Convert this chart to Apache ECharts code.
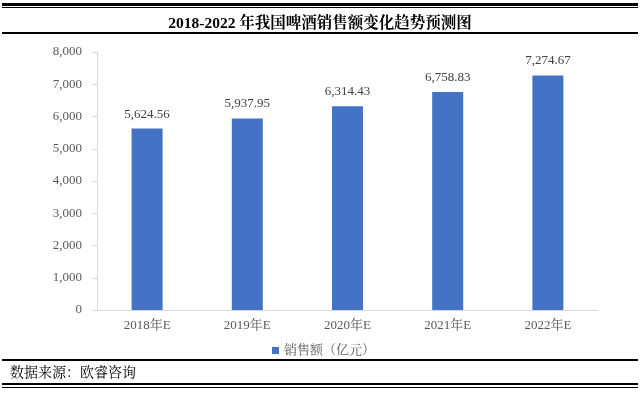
<!DOCTYPE html>
<html><head><meta charset="utf-8">
<script src="https://cdn.jsdelivr.net/npm/echarts@6/dist/echarts.min.js"></script>
<style>html,body{margin:0;padding:0;background:#fff}#c{width:640px;height:394px}</style>
</head><body><div id="c"></div>
<script>
const categories = ['2018年E','2019年E','2020年E','2021年E','2022年E'];
const sales = [5624.56, 5937.95, 6314.43, 6758.83, 7274.67];
const yTicks = [0,1000,2000,3000,4000,5000,6000,7000,8000];
const titleText = '2018-2022 年我国啤酒销售额变化趋势预测图';
const seriesName = '销售额（亿元）';
const sourceText = '数据来源：欧睿咨询';

const serif = '"Liberation Serif","Noto Serif CJK SC","Noto Sans CJK SC",serif';
const chart = echarts.init(document.getElementById('c'));
const fmt = v => Number(v).toLocaleString('en-US');
chart.setOption({
  animation:false,
  title:{text:titleText,left:'center',top:11,textStyle:{fontFamily:serif,fontSize:15.5,fontWeight:'bold',color:'#000'}},
  legend:{data:[seriesName],left:267,top:339,itemWidth:7,itemHeight:7,itemGap:3,icon:'rect',
    textStyle:{fontFamily:serif,fontSize:13,color:'#595959'}},
  grid:{left:97,right:42,top:52,bottom:84},
  xAxis:{type:'category',data:categories,
    axisLine:{lineStyle:{color:'#d9d9d9'}},axisTick:{show:false},
    axisLabel:{fontFamily:serif,fontSize:13,color:'#595959',margin:9}},
  yAxis:{type:'value',min:yTicks[0],max:yTicks[yTicks.length-1],interval:1000,
    axisLine:{show:true,lineStyle:{color:'#d9d9d9'}},
    axisTick:{show:true,length:5,lineStyle:{color:'#d9d9d9'}},
    splitLine:{show:false},
    axisLabel:{fontFamily:serif,fontSize:13,color:'#595959',margin:15,formatter:v=>fmt(v)}},
  series:[{name:seriesName,type:'bar',data:sales,barWidth:31,itemStyle:{color:'#4472C4'},
    label:{show:true,position:'top',distance:8,fontFamily:serif,fontSize:13,color:'#404040',
      formatter:p=>p.value.toLocaleString('en-US',{minimumFractionDigits:2,maximumFractionDigits:2})}}],
  graphic:[
    {type:'rect',shape:{x:2,y:3,width:636,height:3},style:{fill:'#000'}},
    {type:'rect',shape:{x:2,y:7,width:636,height:1},style:{fill:'#000'}},
    {type:'rect',shape:{x:2,y:32,width:636,height:2},style:{fill:'#000'}},
    {type:'rect',shape:{x:2,y:359,width:636,height:2},style:{fill:'#000'}},
    {type:'rect',shape:{x:2,y:383,width:636,height:2},style:{fill:'#000'}},
    {type:'rect',shape:{x:2,y:387,width:636,height:1},style:{fill:'#000'}},
    {type:'text',left:10,top:366,style:{text:sourceText,font:'14px '+serif,fill:'#000'}}
  ]
});
</script></body></html>
